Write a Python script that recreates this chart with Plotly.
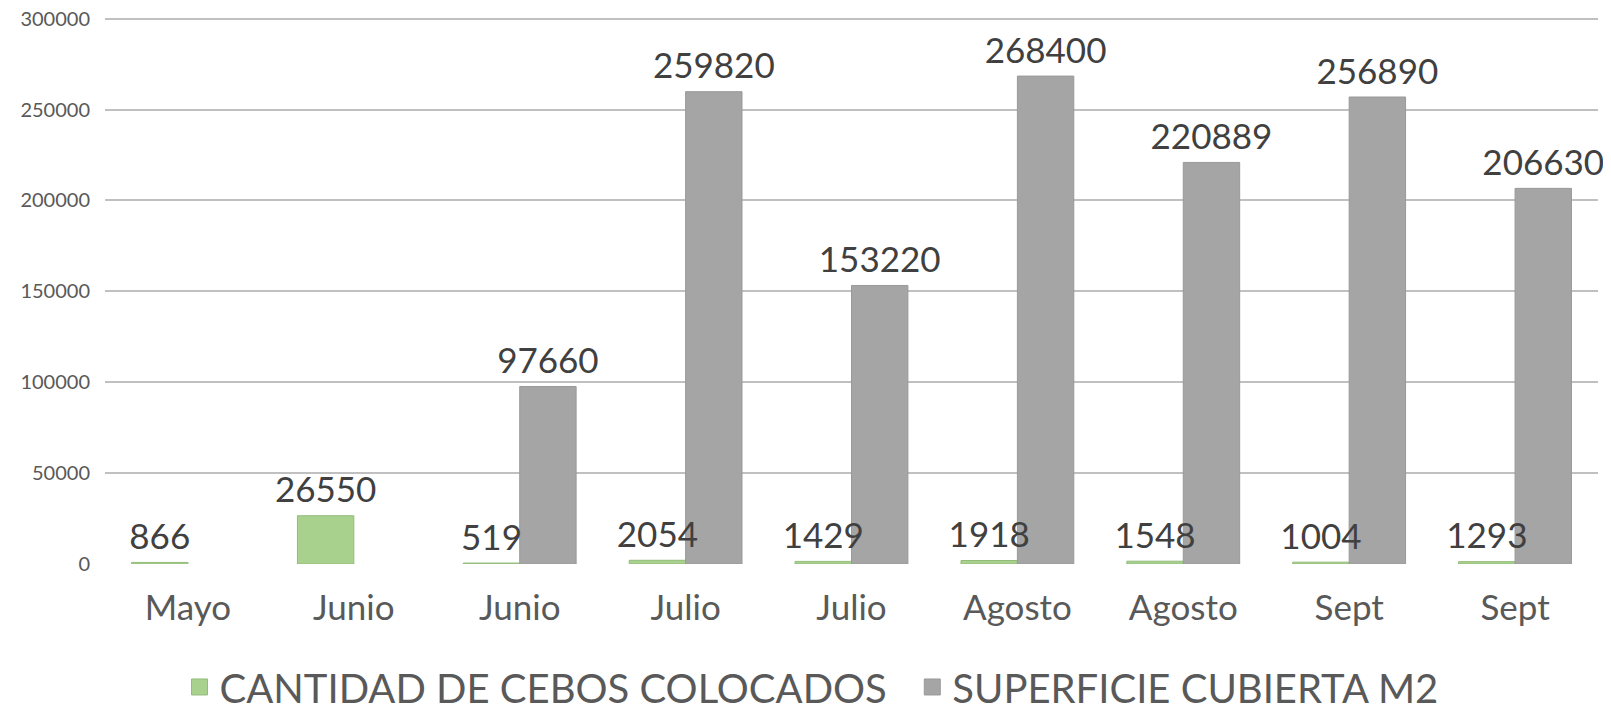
import plotly.graph_objects as go

meses = ["Mayo", "Junio", "Junio", "Julio", "Julio", "Agosto", "Agosto", "Sept", "Sept"]
cebos = [866, 26550, 519, 2054, 1429, 1918, 1548, 1004, 1293]
superficie = [None, None, 97660, 259820, 153220, 268400, 220889, 256890, 206630]
series = ["CANTIDAD DE CEBOS COLOCADOS", "SUPERFICIE CUBIERTA M2"]

pos = list(range(len(meses)))
ancho = 0.34
font = "Lato"
verde, gris = "#a9d18e", "#a5a5a5"

fig = go.Figure()
fig.add_trace(go.Bar(
    x=pos, y=cebos, name=series[0], showlegend=False,
    offset=-ancho, width=ancho,
    marker=dict(color=verde, line=dict(color="#93bb7b", width=1)),
))
fig.add_trace(go.Bar(
    x=pos, y=superficie, name=series[1], showlegend=False,
    offset=0, width=ancho,
    marker=dict(color=gris, line=dict(color="#999999", width=1)),
))

# data labels drawn on top of both bar series (invisible marker adds a small gap)
for xs, vals in [([p - ancho / 2 for p in pos], cebos), ([p + ancho / 2 for p in pos], superficie)]:
    fig.add_trace(go.Scatter(
        x=xs, y=vals, mode="markers+text",
        marker=dict(size=6, opacity=0),
        text=["" if v is None else str(v) for v in vals], textposition="top center",
        textfont=dict(size=35, color="#404040", family=font),
        showlegend=False, hoverinfo="skip", cliponaxis=False,
    ))

# legend entries with square swatches (nbsp pads the gap between entries)
for nombre, color, borde in [(series[0] + "\u00a0\u00a0", verde, "#93bb7b"), (series[1], gris, "#999999")]:
    fig.add_trace(go.Scatter(
        x=[None], y=[None], mode="markers", name=nombre,
        marker=dict(symbol="square", size=17, color=color, line=dict(color=borde, width=1)),
    ))

# page body keeps its default 8px margin, so the figure is a bit smaller
fig.update_layout(
    width=1603, height=702,
    margin=dict(l=97, r=13, t=7, b=146),
    paper_bgcolor="white", plot_bgcolor="white",
    barmode="overlay",
    font=dict(family=font, color="#595959"),
    xaxis=dict(
        tickmode="array", tickvals=pos, ticktext=meses,
        range=[-0.5, len(meses) - 0.5],
        showgrid=False, zeroline=False, showline=False,
        tickfont=dict(size=35, color="#595959"),
        ticklabelstandoff=20, automargin=False,
    ),
    yaxis=dict(
        range=[0, 302000], tickvals=[0, 50000, 100000, 150000, 200000, 250000, 300000],
        tickformat="d",
        showgrid=True, gridcolor="#c0c0c0", gridwidth=2,
        zeroline=True, zerolinecolor="rgba(0,0,0,0)",
        showline=False,
        tickfont=dict(size=20, color="#595959"),
        ticklabelstandoff=14, automargin=False,
        ticklabeloverflow="allow",
    ),
    legend=dict(
        orientation="h", xref="container", yref="container",
        x=0.107, xanchor="left", y=0.0328, yanchor="middle",
        font=dict(size=40, color="#595959"),
        bgcolor="rgba(0,0,0,0)",
    ),
    showlegend=True,
)

fig.write_html("out.html")
